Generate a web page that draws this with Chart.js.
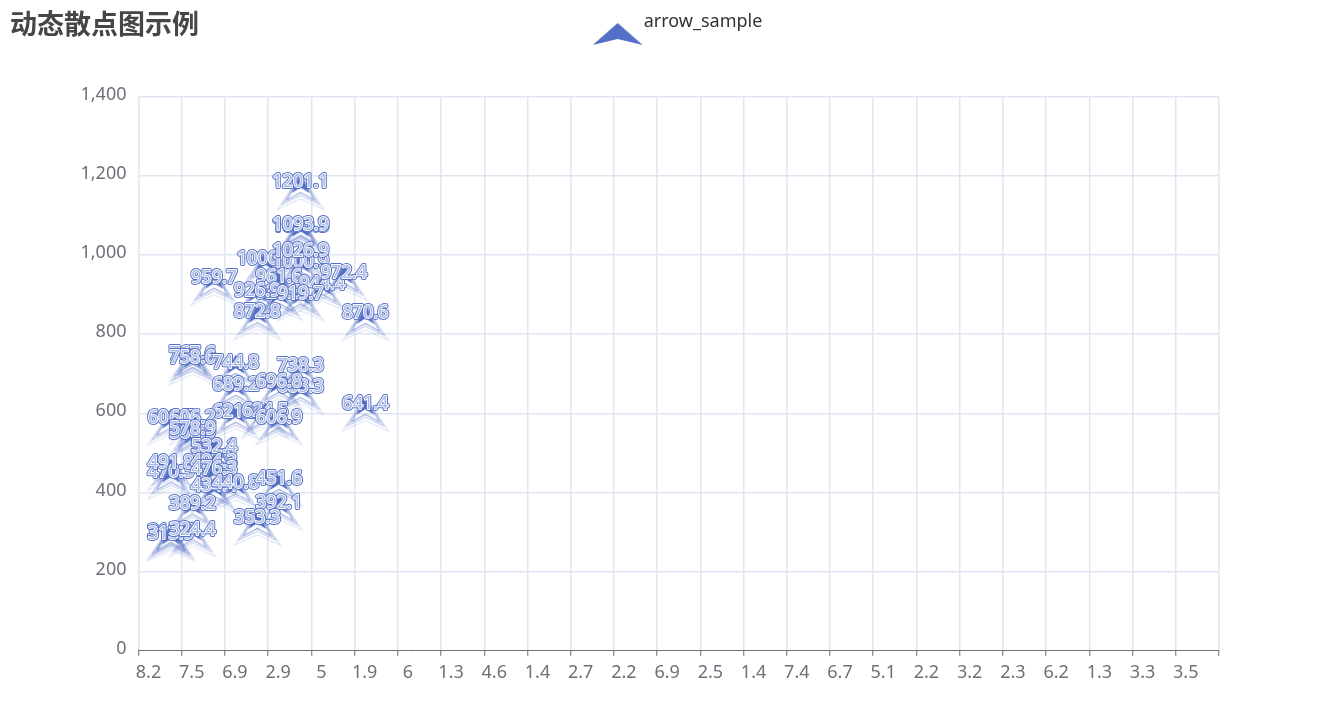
<!DOCTYPE html>
<html>
<head>
<meta charset="utf-8">
<title>动态散点图示例</title>
<script src="https://cdn.jsdelivr.net/npm/chart.js@4/dist/chart.umd.min.js"></script>
<style>
    body { margin: 0; background: #fff; }
    canvas { display: block; }
</style>
</head>
<body>
<canvas id="scatterChart" width="1317" height="711"></canvas>
<script>
const chartTitle = '动态散点图示例';
const seriesName = 'arrow_sample';
const xTickLabels = ['8.2', '7.5', '6.9', '2.9', '5', '1.9', '6', '1.3', '4.6', '1.4', '2.7', '2.2', '6.9',
    '2.5', '1.4', '7.4', '6.7', '5.1', '2.2', '3.2', '2.3', '6.2', '1.3', '3.3', '3.5'];

// x is read in bands counted from the left end of the axis, order follows the label stacking
const xValues = [
    3.75, 3.75, 3.75, 2.93, 3.75, 3.75, 1.75, 3.25, 4.25, 4.75, 3.25, 2.75, 3.75, 2.75, 5.25,
    1.25, 1.25, 2.25, 3.75, 2.25, 3.75, 3.25, 5.25, 2.25, 2.93, 3.25, 0.75, 1.25, 1.25, 1.25,
    1.75, 1.75, 0.75, 0.75, 1.75, 1.75, 1.75, 2.25, 3.25, 3.25, 1.25, 2.75, 0.75, 0.75, 1.25
];
const yValues = [
    1201.1, 1090.3, 1093.9, 1006.2, 1000.9, 1026.9, 959.7, 961.6, 944.4, 972.4, 921.3, 926.9, 919.7, 872.8, 870.6,
    767.6, 758.6, 744.8, 738.3, 689.2, 683.3, 696.8, 641.4, 621.2, 624.5, 606.9, 606.7, 606.2, 566.9, 578.9,
    532.1, 532.4, 470.3, 491.8, 494.3, 476.3, 434.4, 440.8, 451.6, 392.1, 389.2, 353.3, 318.5, 313.9, 324.4
];

const arrowColor = '#5470C6';

function traceArrow(c, cx, top, bottom, w) {
    const h = bottom - top;
    c.beginPath();
    c.moveTo(cx, top);
    c.lineTo(cx + w / 2, bottom);
    c.lineTo(cx, bottom - h * 0.3);
    c.lineTo(cx - w / 2, bottom);
    c.closePath();
}

// marker: filled arrow with the fading ripple outlines, hangs below its value
function makePointIcon() {
    const icon = document.createElement('canvas');
    icon.width = 80;
    icon.height = 80;
    const c = icon.getContext('2d');
    c.strokeStyle = arrowColor;
    c.lineWidth = 1.2;
    [[0.55, 28, 25], [0.35, 37, 29], [0.18, 46, 34]].forEach(function (ring) {
        c.globalAlpha = ring[0];
        traceArrow(c, 40, 40, 40 + ring[2], ring[1]);
        c.stroke();
    });
    c.globalAlpha = 1;
    c.fillStyle = arrowColor;
    traceArrow(c, 40, 39, 58, 18);
    c.fill();
    return icon;
}

function makeLegendIcon() {
    const icon = document.createElement('canvas');
    icon.width = 50;
    icon.height = 66;
    const c = icon.getContext('2d');
    c.fillStyle = arrowColor;
    c.beginPath();
    c.moveTo(25, 34);
    c.lineTo(50, 56);
    c.lineTo(25, 50);
    c.lineTo(0, 56);
    c.closePath();
    c.fill();
    return icon;
}

const valueLabels = {
    id: 'valueLabels',
    afterDatasetsDraw(chart) {
        const c = chart.ctx;
        const points = chart.getDatasetMeta(0).data;
        c.save();
        c.font = '18px "Noto Sans", sans-serif';
        c.textAlign = 'center';
        c.textBaseline = 'middle';
        c.lineJoin = 'round';
        points.forEach(function (pt, i) {
            const text = String(yValues[i]);
            c.strokeStyle = arrowColor;
            c.lineWidth = 3.8;
            c.strokeText(text, pt.x, pt.y + 7);
            c.strokeStyle = '#fff';
            c.lineWidth = 1.8;
            c.strokeText(text, pt.x, pt.y + 7);
            c.fillStyle = '#a9b8e3';
            c.fillText(text, pt.x, pt.y + 7);
        });
        c.restore();
    }
};

// title and legend share the top band, the legend sits right of centre
const placeTopBoxes = {
    id: 'placeTopBoxes',
    afterLayout(chart) {
        const legend = chart.legend;
        legend.top = 3;
        legend.bottom = 50;
        legend.left += 67;
        legend.right += 67;
    }
};

const ctx = document.getElementById('scatterChart');
const pointIcon = makePointIcon();
const legendIcon = makeLegendIcon();

ctx.chart = new Chart(ctx, {
    type: 'scatter',
    data: {
        datasets: [{
            label: seriesName,
            data: xValues.map(function (x, i) { return { x: x, y: yValues[i] }; }),
            pointStyle: pointIcon,
            pointRadius: 10,
            backgroundColor: arrowColor,
            borderColor: arrowColor
        }]
    },
    options: {
        responsive: false,
        animation: false,
        events: [],
        layout: {
            padding: { left: 10, right: 98, top: 0, bottom: 21.5 }
        },
        plugins: {
            title: {
                display: true,
                text: chartTitle,
                align: 'start',
                color: '#464646',
                font: { family: '"Noto Sans CJK SC", sans-serif', size: 27, weight: 'bold' },
                padding: { top: 8, bottom: 18 }
            },
            legend: {
                position: 'top',
                labels: {
                    usePointStyle: true,
                    pointStyleWidth: 34,
                    padding: 10,
                    color: '#333',
                    font: { family: '"Noto Sans", sans-serif', size: 18 },
                    generateLabels: function () {
                        return [{ text: seriesName, pointStyle: legendIcon, datasetIndex: 0, fontColor: '#333', lineWidth: 0 }];
                    }
                }
            },
            tooltip: { enabled: false }
        },
        scales: {
            x: {
                type: 'linear',
                min: 0,
                max: xTickLabels.length,
                afterBuildTicks: function (axis) {
                    axis.ticks = xTickLabels.concat(['']).map(function (t, i) { return { value: i }; });
                },
                border: { color: '#6E7079', width: 1 },
                grid: {
                    color: '#E0E6F1',
                    lineWidth: 1.5,
                    tickColor: '#6E7079',
                    tickWidth: 1,
                    tickLength: 5
                },
                ticks: {
                    color: '#6E7079',
                    font: { family: '"Noto Sans", sans-serif', size: 18 },
                    maxRotation: 0,
                    autoSkip: false,
                    labelOffset: 10,
                    padding: 6,
                    callback: function (value) { return xTickLabels[value] || ''; }
                }
            },
            y: {
                min: 0,
                max: 1400,
                afterFit: function (axis) { axis.width = 128.5; },
                border: { display: false },
                grid: {
                    color: function (c) { return c.tick && c.tick.value === 0 ? 'rgba(0,0,0,0)' : '#E0E6F1'; },
                    lineWidth: 1.5,
                    tickLength: 0
                },
                ticks: {
                    stepSize: 200,
                    color: '#6E7079',
                    font: { family: '"Noto Sans", sans-serif', size: 18 },
                    labelOffset: -2,
                    padding: 12,
                    callback: function (value) { return value.toLocaleString('en-US'); }
                }
            }
        }
    },
    plugins: [valueLabels, placeTopBoxes]
});
</script>
</body>
</html>
